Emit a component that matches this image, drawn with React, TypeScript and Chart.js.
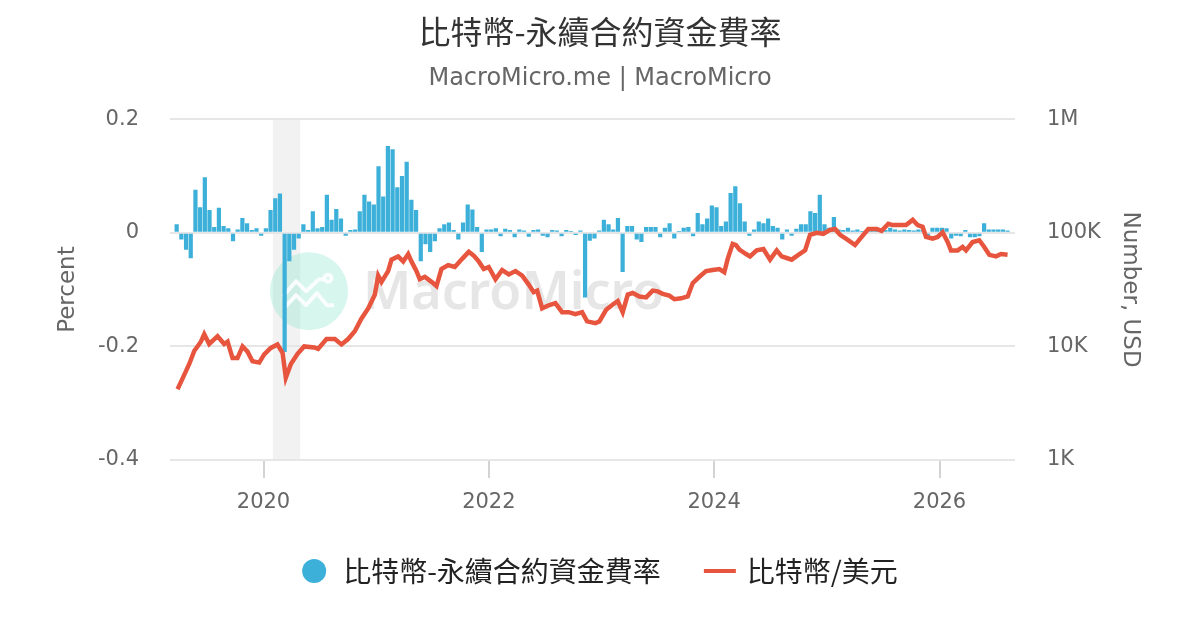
import { useEffect, useRef } from "react"
import { Chart, registerables } from "chart.js"

Chart.register(...registerables)

const TITLE = "比特幣-永續合約資金費率"
const SUBTITLE = "MacroMicro.me | MacroMicro"
const FUNDING_LABEL = "比特幣-永續合約資金費率"
const PRICE_LABEL = "比特幣/美元"
const LEFT_TITLE = "Percent"
const RIGHT_TITLE = "Number, USD"

const BLUE = "#3db0da"
const RED = "#e8553e"
const CJK = "'Noto Sans CJK TC', 'Noto Sans', sans-serif"
const LATIN = "'DejaVu Sans', sans-serif"

const xTicks = [2020, 2022, 2024, 2026]
const leftTicks = [-0.4, -0.2, 0, 0.2]
const rightTicks = [1000, 10000, 100000, 1000000]
const rightTickLabels = ["1K", "10K", "100K", "1M"]

// shaded recession band (decimal years)
const recession = [2020.083, 2020.326]

// funding rate (%), two readings per month; null = before data starts
const fundingYears = [2019, 2020, 2021, 2022, 2023, 2024, 2025, 2026]
const funding2019 = [null, null, null, null, null, 0.015, -0.012, -0.03, -0.045, 0.076, 0.045, 0.098, 0.04, 0.01, 0.044, 0.012, 0.008, -0.015, 0.006, 0.026, 0.017, 0.005, 0.008, -0.005]
const funding2020 = [0.008, 0.04, 0.061, 0.069, -0.21, -0.05, -0.03, -0.01, 0.015, 0.005, 0.038, 0.008, 0.01, 0.067, 0.023, 0.042, 0.025, -0.005, 0.005, 0.006, 0.038, 0.067, 0.055, 0.05]
const funding2021 = [0.117, 0.064, 0.153, 0.147, 0.08, 0.1, 0.125, 0.058, 0.04, -0.05, -0.02, -0.034, -0.015, 0.008, 0.015, 0.018, 0.005, -0.012, 0.018, 0.05, 0.041, 0.01, -0.034, 0.006]
const funding2022 = [0.006, 0.008, -0.006, 0.007, 0.005, -0.008, 0.006, 0.004, -0.007, 0.005, 0.006, -0.005, -0.008, 0.005, 0.004, -0.006, 0.005, 0.003, -0.004, 0.004, -0.114, -0.014, -0.01, 0.004]
const funding2023 = [0.023, 0.015, 0.006, 0.026, -0.069, 0.012, 0.012, -0.012, -0.016, 0.01, 0.01, 0.01, -0.008, 0.009, 0.017, -0.01, 0.003, 0.009, 0.01, -0.006, 0.035, 0.015, 0.025, 0.048]
const funding2024 = [0.045, 0.012, 0.02, 0.07, 0.082, 0.052, 0.02, -0.005, 0.006, 0.02, 0.017, 0.025, 0.012, 0.009, -0.012, 0.006, -0.005, 0.007, 0.015, 0.015, 0.038, 0.035, 0.067, 0.015]
const funding2025 = [0.009, 0.028, 0.006, 0.005, 0.009, 0.004, 0.006, 0.003, 0.005, 0.004, 0.006, 0.004, 0.005, 0.009, 0.006, 0.004, 0.006, 0.005, 0.004, 0.006, 0.005, -0.006, 0.009, 0.009]
const funding2026 = [0.009, 0.008, -0.01, -0.005, -0.006, 0.005, -0.008, -0.008, -0.006, 0.017, 0.006, 0.006, 0.006, 0.006, 0.004]

// BTC / USD price readings
const priceDates = [
  2019.237, 2019.281, 2019.341, 2019.385, 2019.444, 2019.474, 2019.518, 2019.592, 2019.651, 2019.681,
  2019.725, 2019.769, 2019.814, 2019.858, 2019.902, 2019.962, 2020.006, 2020.065, 2020.124, 2020.169,
  2020.198, 2020.243, 2020.302, 2020.361, 2020.45, 2020.485, 2020.559, 2020.633, 2020.692, 2020.751,
  2020.81, 2020.87, 2020.929, 2020.988, 2021.018, 2021.047, 2021.106, 2021.136, 2021.195, 2021.24,
  2021.284, 2021.313, 2021.358, 2021.387, 2021.432, 2021.491, 2021.535, 2021.579, 2021.639, 2021.698,
  2021.763, 2021.822, 2021.866, 2021.91, 2021.955, 2021.999, 2022.059, 2022.118, 2022.177, 2022.236,
  2022.296, 2022.354, 2022.398, 2022.429, 2022.473, 2022.532, 2022.591, 2022.65, 2022.709, 2022.768,
  2022.828, 2022.872, 2022.946, 2022.981, 2023.041, 2023.1, 2023.144, 2023.188, 2023.233, 2023.277,
  2023.336, 2023.396, 2023.454, 2023.499, 2023.543, 2023.602, 2023.647, 2023.706, 2023.765, 2023.809,
  2023.869, 2023.928, 2023.987, 2024.046, 2024.09, 2024.12, 2024.164, 2024.194, 2024.224, 2024.283,
  2024.318, 2024.377, 2024.437, 2024.496, 2024.555, 2024.599, 2024.643, 2024.688, 2024.747, 2024.807,
  2024.851, 2024.91, 2024.969, 2025.028, 2025.073, 2025.117, 2025.176, 2025.25, 2025.309, 2025.368,
  2025.442, 2025.486, 2025.546, 2025.584, 2025.643, 2025.703, 2025.762, 2025.806, 2025.85, 2025.88,
  2025.939, 2025.983, 2026.028, 2026.072, 2026.102, 2026.161, 2026.205, 2026.235, 2026.294, 2026.353,
  2026.397, 2026.442, 2026.501, 2026.546, 2026.604,
]
const priceValues = [
  4200, 5200, 7000, 9100, 11000, 12800, 10500, 12300, 10500, 11000,
  7900, 7900, 10000, 9000, 7400, 7200, 8500, 9700, 10400, 8800,
  5300, 7000, 8600, 10000, 9800, 9500, 11600, 11600, 10400, 11600,
  13600, 17600, 21600, 28500, 42000, 37000, 46000, 58000, 62000, 56000,
  65000, 56000, 46000, 39000, 41000, 37000, 34000, 48000, 52000, 50000,
  59000, 68000, 63000, 56000, 48000, 50000, 39000, 47000, 43000, 46000,
  42000, 35000, 30000, 31000, 21600, 23000, 24000, 20000, 20000, 19200,
  20000, 16600, 16000, 16600, 21000, 23400, 25000, 20000, 28600, 29500,
  27500, 27000, 31000, 30500, 29000, 28000, 26000, 26500, 27500, 36000,
  41000, 46000, 47000, 48000, 45000, 59000, 80000, 78000, 71000, 65000,
  62000, 70000, 72000, 58000, 70000, 62000, 60000, 58000, 64000, 70000,
  96000, 100000, 98000, 106000, 108000, 96000, 88000, 78000, 92000, 108000,
  108000, 104000, 120000, 117000, 117000, 117000, 130000, 117000, 113000, 92000,
  89000, 92000, 101000, 83000, 70000, 70000, 75000, 70000, 83000, 86000,
  75000, 64000, 62000, 65000, 64000,
]

const fundingByYear = [funding2019, funding2020, funding2021, funding2022, funding2023, funding2024, funding2025, funding2026]

const backdropPlugin = {
  id: "backdrop",
  beforeDraw(chart: any) {
    const { ctx, chartArea, scales } = chart
    const x0 = scales.x.getPixelForValue(recession[0])
    const x1 = scales.x.getPixelForValue(recession[1])
    ctx.save()
    ctx.fillStyle = "#f2f2f2"
    ctx.fillRect(x0, chartArea.top, x1 - x0, chartArea.bottom - chartArea.top)
    ctx.restore()
  },
  beforeDatasetsDraw(chart: any) {
    // faint MacroMicro watermark
    const { ctx, chartArea } = chart
    const cx = chartArea.left + 139
    const cy = chartArea.top + 172
    ctx.save()
    ctx.fillStyle = "rgba(120, 225, 200, 0.3)"
    ctx.beginPath()
    ctx.arc(cx, cy, 39, 0, Math.PI * 2)
    ctx.fill()
    ctx.strokeStyle = "rgba(255, 255, 255, 0.85)"
    ctx.lineWidth = 4
    ctx.lineJoin = "round"
    ctx.beginPath()
    ctx.moveTo(cx - 26, cy + 5)
    ctx.lineTo(cx - 13, cy - 10)
    ctx.lineTo(cx - 3, cy)
    ctx.lineTo(cx + 10, cy - 12)
    ctx.lineTo(cx + 15, cy - 12)
    ctx.stroke()
    ctx.beginPath()
    ctx.arc(cx + 19, cy - 13, 3.5, 0, Math.PI * 2)
    ctx.stroke()
    ctx.beginPath()
    ctx.moveTo(cx - 24, cy + 16)
    ctx.lineTo(cx - 13, cy + 4)
    ctx.lineTo(cx - 3, cy + 14)
    ctx.lineTo(cx + 8, cy + 2)
    ctx.lineTo(cx + 18, cy + 14)
    ctx.lineTo(cx + 25, cy + 14)
    ctx.stroke()
    ctx.fillStyle = "rgba(205, 205, 205, 0.5)"
    ctx.font = "600 52px 'Noto Sans', sans-serif"
    ctx.textBaseline = "alphabetic"
    ctx.fillText("MacroMicro", chartArea.left + 193, chartArea.top + 190)
    ctx.restore()
  },
}

const legendPlugin = {
  id: "bottomLegend",
  afterDraw(chart: any) {
    const { ctx, width } = chart
    ctx.save()
    ctx.font = `28px ${CJK}`
    const w1 = ctx.measureText(FUNDING_LABEL).width
    const w2 = ctx.measureText(PRICE_LABEL).width
    const total = 24 + 17 + w1 + 43 + 32 + 11 + w2
    let x = (width - total) / 2
    const y = 571
    ctx.fillStyle = BLUE
    ctx.beginPath()
    ctx.arc(x + 12, y, 12, 0, Math.PI * 2)
    ctx.fill()
    x += 24 + 17
    ctx.fillStyle = "#222"
    ctx.textBaseline = "middle"
    ctx.fillText(FUNDING_LABEL, x, y)
    x += w1 + 43
    ctx.strokeStyle = RED
    ctx.lineWidth = 4
    ctx.beginPath()
    ctx.moveTo(x, y)
    ctx.lineTo(x + 32, y)
    ctx.stroke()
    x += 32 + 11
    ctx.fillText(PRICE_LABEL, x, y)
    ctx.restore()
  },
}

export default function App() {
  const chartRef = useRef<HTMLCanvasElement>(null)
  const chartInstance = useRef<Chart | null>(null)

  useEffect(() => {
    if (!chartRef.current) return
    const ctx = chartRef.current.getContext("2d")
    if (!ctx) return

    if (chartInstance.current) {
      chartInstance.current.destroy()
    }

    const fundingPoints: { x: number; y: number }[] = []
    fundingByYear.forEach((vals, k) => {
      vals.forEach((v, i) => {
        if (v !== null) fundingPoints.push({ x: fundingYears[k] + (i + 0.5) / 24, y: v })
      })
    })
    const pricePoints = priceDates.map((d, i) => ({ x: d, y: priceValues[i] }))

    chartInstance.current = new Chart(ctx, {
      type: "line",
      data: {
        datasets: [
          {
            type: "bar",
            label: FUNDING_LABEL,
            data: fundingPoints,
            backgroundColor: BLUE,
            borderWidth: 0,
            barPercentage: 0.9,
            categoryPercentage: 1,
            yAxisID: "yLeft",
            order: 2,
          },
          {
            type: "line",
            label: PRICE_LABEL,
            data: pricePoints,
            borderColor: RED,
            backgroundColor: RED,
            borderWidth: 4.5,
            pointRadius: 0,
            tension: 0,
            yAxisID: "yRight",
            order: 1,
          },
        ] as any,
      },
      options: {
        animation: false,
        responsive: true,
        maintainAspectRatio: false,
        events: [],
        layout: { padding: { left: 0, right: 0, top: 0, bottom: 110 } },
        plugins: {
          legend: { display: false },
          tooltip: { enabled: false },
          title: {
            display: true,
            text: TITLE,
            color: "#333",
            font: { family: CJK, size: 32, weight: "normal" },
            padding: { top: 13, bottom: 0 },
          },
          subtitle: {
            display: true,
            text: SUBTITLE,
            color: "#666",
            font: { family: LATIN, size: 24 },
            padding: { top: 13, bottom: 26 },
          },
        },
        scales: {
          x: {
            type: "linear",
            min: 2019.17,
            max: 2026.67,
            offset: false,
            afterBuildTicks: (axis: any) => {
              axis.ticks = xTicks.map((v) => ({ value: v }))
            },
            afterFit: (axis: any) => {
              axis.height = 60
            },
            ticks: {
              color: "#666",
              font: { family: LATIN, size: 21 },
              padding: 12,
              maxRotation: 0,
              callback: (v: any) => String(v),
            },
            grid: {
              drawOnChartArea: false,
              drawTicks: true,
              tickLength: 18,
              color: "#d3d3d3",
              lineWidth: 2,
              offset: false,
            },
            border: { display: false },
          },
          yLeft: {
            type: "linear",
            position: "left",
            min: -0.4,
            max: 0.2,
            afterBuildTicks: (axis: any) => {
              axis.ticks = leftTicks.map((v) => ({ value: v }))
            },
            afterFit: (axis: any) => {
              axis.width = 170
            },
            ticks: {
              color: "#666",
              font: { family: LATIN, size: 21 },
              padding: 31,
              callback: (v: any) => (v === 0 ? "0" : Number(v).toFixed(1)),
            },
            grid: { color: "#e6e6e6", lineWidth: 2, drawTicks: false },
            border: { display: false },
            title: {
              display: true,
              text: LEFT_TITLE,
              color: "#666",
              font: { family: LATIN, size: 23 },
              padding: { top: 54, bottom: 0 },
            },
          },
          yRight: {
            type: "logarithmic",
            position: "right",
            min: 1000,
            max: 1000000,
            afterBuildTicks: (axis: any) => {
              axis.ticks = rightTicks.map((v) => ({ value: v }))
            },
            afterFit: (axis: any) => {
              axis.width = 185
            },
            ticks: {
              color: "#666",
              font: { family: LATIN, size: 21 },
              padding: 32,
              callback: (_v: any, i: number) => rightTickLabels[i],
            },
            grid: { display: false, drawTicks: false },
            border: { display: false },
            title: {
              display: true,
              text: RIGHT_TITLE,
              color: "#666",
              font: { family: LATIN, size: 23 },
              padding: { top: 56, bottom: 0 },
            },
          },
        },
      },
      plugins: [backdropPlugin, legendPlugin],
    })

    return () => {
      if (chartInstance.current) {
        chartInstance.current.destroy()
        chartInstance.current = null
      }
    }
  }, [])

  return (
    <div style={{ position: "fixed", left: 0, top: 0, width: 1200, height: 630, background: "#fff" }}>
      <canvas ref={chartRef}></canvas>
    </div>
  )
}
